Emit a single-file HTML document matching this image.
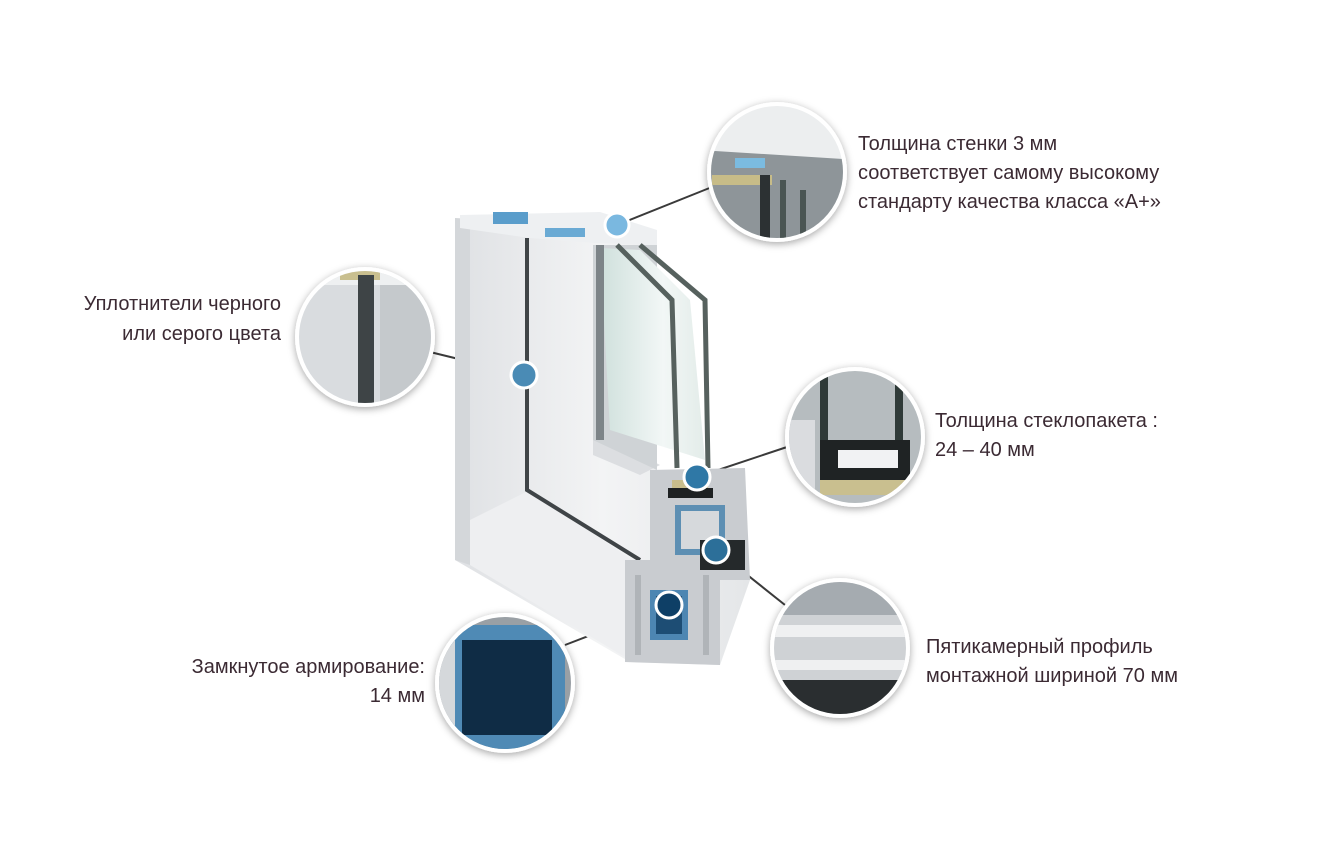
<!DOCTYPE html>
<html><head><meta charset="utf-8"><style>
html,body{margin:0;padding:0;background:#fff;width:1321px;height:865px;overflow:hidden}
svg{display:block}
.t{font-family:"Liberation Sans Narrow","Liberation Sans",sans-serif;font-size:20px;fill:#3b2a33}
</style></head><body>
<svg width="1321" height="865" viewBox="0 0 1321 865">
<defs>
<linearGradient id="fr" x1="0" x2="1"><stop offset="0" stop-color="#dfe1e4"/><stop offset=".5" stop-color="#f3f4f5"/><stop offset="1" stop-color="#e4e6e8"/></linearGradient>
<linearGradient id="gl" x1="0" x2="1"><stop offset="0" stop-color="#cfe0dc"/><stop offset=".6" stop-color="#f2f7f6"/><stop offset="1" stop-color="#e3ece9"/></linearGradient>
<linearGradient id="cg" x1="0" y1="0" x2="0" y2="1"><stop offset="0" stop-color="#e8e9eb"/><stop offset="1" stop-color="#9a9ea3"/></linearGradient>
<filter id="sh" x="-30%" y="-30%" width="160%" height="160%"><feDropShadow dx="0" dy="2" stdDeviation="4" flood-opacity=".35"/></filter>
<clipPath id="c1"><circle cx="777" cy="172" r="66"/></clipPath>
<clipPath id="c2"><circle cx="365" cy="337" r="66"/></clipPath>
<clipPath id="c3"><circle cx="855" cy="437" r="66"/></clipPath>
<clipPath id="c4"><circle cx="840" cy="648" r="66"/></clipPath>
<clipPath id="c5"><circle cx="505" cy="683" r="66"/></clipPath>
</defs>

<!-- connectors -->
<g stroke="#3a3a3a" stroke-width="2" fill="none">
<line x1="617" y1="225" x2="712" y2="187"/>
<line x1="524" y1="375" x2="430" y2="352"/>
<line x1="697" y1="477" x2="790" y2="446"/>
<line x1="716" y1="550" x2="785" y2="605"/>
<line x1="669" y1="605" x2="565" y2="645"/>
</g>

<!-- window profile -->
<polygon points="455,218 600,222 657,238 657,470 710,470 720,560 750,580 720,665 630,662 455,560" fill="url(#fr)"/>
<polygon points="455,218 470,220 470,565 455,560" fill="#d4d7da"/>
<polygon points="530,490 632,560 630,660 470,565 470,520" fill="#eeeff1"/>
<polygon points="593,430 660,465 640,475 593,455" fill="#dcdee1"/>
<polyline points="527,238 527,490 640,560" stroke="#3f4447" stroke-width="4" fill="none"/>
<!-- top of frame -->
<polygon points="460,215 600,212 657,230 657,245 595,243 530,238 460,228" fill="#eef0f2"/>
<rect x="493" y="212" width="35" height="12" fill="#5a9dcb"/>
<rect x="545" y="228" width="40" height="9" fill="#6aaad4"/>
<!-- sash & glass -->
<polygon points="593,245 657,245 657,470 593,440" fill="#cfd3d6"/>
<polygon points="600,248 640,250 690,300 705,460 610,430" fill="url(#gl)"/>
<polyline points="617,245 672,300 677,468" stroke="#56615e" stroke-width="5" fill="none"/>
<polyline points="640,245 705,300 708,468" stroke="#56615e" stroke-width="5" fill="none"/>
<rect x="596" y="245" width="8" height="195" fill="#7d8488"/>
<!-- cross section -->
<polygon points="650,470 745,468 750,580 720,580 720,665 625,662 625,560 650,560" fill="#c9ccd0"/>
<rect x="668" y="488" width="45" height="10" fill="#1e2122"/>
<rect x="672" y="480" width="36" height="8" fill="#c8bd8c"/>
<rect x="675" y="505" width="50" height="50" fill="#5d8fb3"/>
<rect x="681" y="511" width="38" height="38" fill="#d6d9dc"/>
<rect x="700" y="540" width="45" height="30" fill="#25292b"/>
<rect x="650" y="590" width="38" height="50" fill="#4d86b2"/>
<rect x="656" y="596" width="26" height="38" fill="#1d4d74"/>
<rect x="635" y="575" width="6" height="80" fill="#b0b4b8"/>
<rect x="703" y="575" width="6" height="80" fill="#b0b4b8"/>

<!-- dots -->
<g stroke="#fff" stroke-width="3">
<circle cx="617" cy="225" r="12" fill="#7ab8e0"/>
<circle cx="524" cy="375" r="13" fill="#4a8bb5"/>
<circle cx="697" cy="477" r="13" fill="#2f78a6"/>
<circle cx="716" cy="550" r="13" fill="#2c6f99"/>
<circle cx="669" cy="605" r="13" fill="#0e3f66"/>
</g>

<!-- circles -->
<g filter="url(#sh)" fill="#fff">
<circle cx="777" cy="172" r="70"/><circle cx="365" cy="337" r="70"/><circle cx="855" cy="437" r="70"/><circle cx="840" cy="648" r="70"/><circle cx="505" cy="683" r="70"/>
</g>
<g clip-path="url(#c1)">
<rect x="700" y="100" width="160" height="150" fill="#eceeef"/>
<polygon points="700,150 860,160 860,250 700,250" fill="#8e9599"/>
<rect x="735" y="158" width="30" height="10" fill="#7bbbe0"/>
<rect x="712" y="175" width="60" height="10" fill="#c7bc88"/>
<rect x="760" y="175" width="10" height="80" fill="#2c3133"/>
<rect x="780" y="180" width="6" height="80" fill="#4a5553"/>
<rect x="800" y="190" width="6" height="70" fill="#4a5553"/>
</g>
<g clip-path="url(#c2)">
<rect x="295" y="265" width="140" height="145" fill="#d9dcdf"/>
<rect x="295" y="265" width="140" height="20" fill="#eef0f1"/>
<rect x="340" y="270" width="40" height="10" fill="#c9bf8f"/>
<rect x="358" y="275" width="16" height="140" fill="#3e4446"/>
<rect x="380" y="285" width="55" height="125" fill="#c5c9cc"/>
</g>
<g clip-path="url(#c3)">
<rect x="785" y="365" width="140" height="145" fill="#b6bcbf"/>
<rect x="820" y="365" width="8" height="80" fill="#2f3a38"/>
<rect x="895" y="365" width="8" height="80" fill="#2f3a38"/>
<rect x="820" y="440" width="90" height="40" fill="#1f2324"/>
<rect x="838" y="450" width="60" height="18" fill="#f1f2f3"/>
<rect x="820" y="480" width="90" height="15" fill="#c9bf8f"/>
<rect x="785" y="420" width="30" height="90" fill="#dadcdf"/>
</g>
<g clip-path="url(#c4)">
<rect x="770" y="575" width="140" height="145" fill="#cfd2d5"/>
<rect x="770" y="575" width="140" height="40" fill="#a5abb0"/>
<rect x="775" y="625" width="130" height="12" fill="#eff0f1"/>
<rect x="775" y="660" width="130" height="10" fill="#eff0f1"/>
<rect x="770" y="680" width="140" height="45" fill="#2a2e30"/>
</g>
<g clip-path="url(#c5)">
<rect x="435" y="610" width="140" height="145" fill="#9aa0a5"/>
<rect x="450" y="625" width="115" height="125" fill="#4f8ab5"/>
<rect x="462" y="640" width="90" height="95" fill="#0f2c45"/>
<rect x="435" y="610" width="20" height="145" fill="#d5d8db"/>
</g>

<!-- labels -->
<text class="t" x="858" y="150">Толщина  стенки 3 мм</text>
<text class="t" x="858" y="179">соответствует самому высокому</text>
<text class="t" x="858" y="208">стандарту качества класса «А+»</text>
<text class="t" x="281" y="310" text-anchor="end">Уплотнители черного</text>
<text class="t" x="281" y="340" text-anchor="end">или серого цвета</text>
<text class="t" x="935" y="427">Толщина стеклопакета :</text>
<text class="t" x="935" y="456">24 – 40 мм</text>
<text class="t" x="926" y="653">Пятикамерный профиль</text>
<text class="t" x="926" y="682">монтажной шириной 70 мм</text>
<text class="t" x="425" y="673" text-anchor="end">Замкнутое армирование:</text>
<text class="t" x="425" y="702" text-anchor="end">14 мм</text>
</svg>
</body></html>
